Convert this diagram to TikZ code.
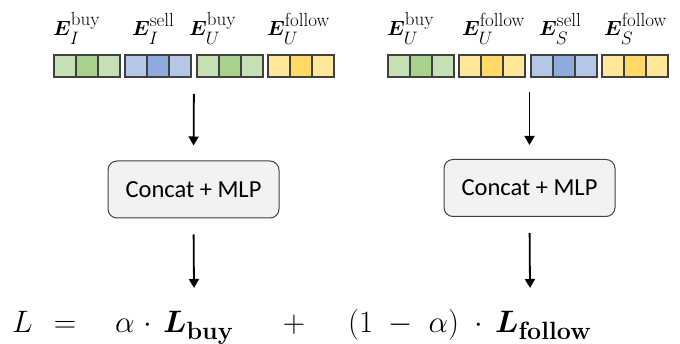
\RequirePackage{fix-cm}
\documentclass[tikz,border=0pt]{standalone}
\usepackage{amsmath}
\usepackage{bm}
\usepackage{fontspec}
\newfontfamily\boxfont{Carlito}
\usetikzlibrary{arrows.meta}

% script parts set at explicit sizes
\newcommand\suptxt[1]{\raisebox{2.5pt}{\fontsize{19}{21}\selectfont #1}}
\newcommand\subsym[1]{\raisebox{-1.5pt}{\fontsize{18}{20}\selectfont$#1$}}
\newcommand\lossidx[1]{\hbox{\fontsize{25}{28}\selectfont\bfseries #1}}
% embedding symbol: bold E with superscript and subscript
\newcommand\embl[2]{$\bm{E}^{\suptxt{#2}}_{\subsym{#1}}$}

\definecolor{cellline}{HTML}{404040}
\definecolor{grnL}{HTML}{C5E0B4}
\definecolor{grnD}{HTML}{A9D18E}
\definecolor{bluL}{HTML}{B4C7E7}
\definecolor{bluD}{HTML}{8FAADC}
\definecolor{ylwL}{HTML}{FFE699}
\definecolor{ylwD}{HTML}{FFD966}
\definecolor{boxfill}{HTML}{F2F2F2}

\begin{document}
\begin{tikzpicture}[x=1pt,y=-1pt,
  cell/.style={draw=cellline, line width=1.1pt, minimum width=22pt,
    minimum height=22pt, inner sep=0pt, outer sep=0pt, anchor=north west},
  row/.style={minimum width=280pt, minimum height=22pt, inner sep=0pt,
    outer sep=0pt, anchor=north west},
  emb/.style={anchor=base west, inner sep=0pt, font=\fontsize{20.5}{24}\selectfont},
  mlp/.style={draw=cellline, fill=boxfill, line width=1pt, rounded corners=9pt,
    minimum width=171pt, minimum height=57pt, inner sep=0pt,
    font=\boxfont\fontsize{24.5}{28}\selectfont},
  eq/.style={inner sep=0pt, font=\fontsize{31}{36}\selectfont},
  flow/.style={line width=1.8pt, -{Triangle[length=9pt,width=10pt]}}]

\useasboundingbox (0,0) rectangle (680,344);

% rows of embedding cells
\node[row] (rowL) at (54,55) {};
\node[row] (rowR) at (388,55) {};

\foreach \g/\x/\lt/\dk in {a/54/grnL/grnD, b/125/bluL/bluD, c/197/grnL/grnD,
    d/268/ylwL/ylwD, e/388/grnL/grnD, f/459/ylwL/ylwD, g/531/bluL/bluD,
    h/602/ylwL/ylwD}{
  \node[cell, fill=\lt] (cell-\g-1) at (\x,55) {};
  \node[cell, fill=\dk] (cell-\g-2) at (\x+22,55) {};
  \node[cell, fill=\lt] (cell-\g-3) at (\x+44,55) {};
}

% embedding labels
\node[emb] (lab-a) at (53,36)  {\embl{I}{buy}};
\node[emb] (lab-b) at (132,36) {\embl{I}{sell}};
\node[emb] (lab-c) at (189,36) {\embl{U}{buy}};
\node[emb] (lab-d) at (267,36) {\embl{U}{follow}};
\node[emb] (lab-e) at (387,36) {\embl{U}{buy}};
\node[emb] (lab-f) at (462,36) {\embl{U}{follow}};
\node[emb] (lab-g) at (539,36) {\embl{S}{sell}};
\node[emb] (lab-h) at (604,36) {\embl{S}{follow}};

% MLP blocks
\node[mlp] (mlpL) at (193.5,189.5) {Concat + MLP};
\node[mlp] (mlpR) at (529.5,188) {Concat + MLP};

% loss formula
\node[eq, anchor=base west] (fL) at (12,333) {$L$};
\node[eq, anchor=base] (fEq) at (65,333) {$=$};
\node[eq, anchor=base west] (fA) at (115,333) {$\alpha$};
\node[eq, anchor=base] (fDotA) at (148,333) {$\cdot$};
\node[eq, anchor=base west] (fBuy) at (163,333) {$\bm{L}_{\lossidx{buy}}$};
\node[eq, anchor=base] (fPlus) at (294,333) {$+$};
\node[eq, anchor=base west] (fB) at (348,333) {$(1\;-\;\alpha)$};
\node[eq, anchor=base] (fDotB) at (479,333) {$\cdot$};
\node[eq, anchor=base west] (fFol) at (495,333) {$\bm{L}_{\lossidx{follow}}$};

\coordinate (tipL) at (194,288);
\coordinate (tipR) at (530,288);

% connectors
\draw[flow, shorten <=17pt, shorten >=15pt] (rowL.south) -- (mlpL.north);
\draw[flow, shorten <=15pt, shorten >=14pt] (rowR.south -| mlpR.north) -- (mlpR.north);
\draw[flow, shorten <=16pt] (mlpL.south) -- (tipL);
\draw[flow, shorten <=16pt] (mlpR.south) -- (tipR);
\end{tikzpicture}
\end{document}
